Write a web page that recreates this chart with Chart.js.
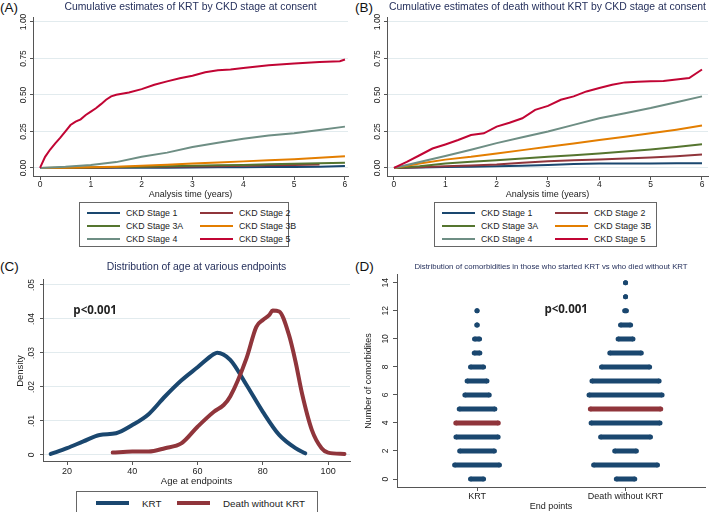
<!DOCTYPE html>
<html>
<head>
<meta charset="utf-8">
<script src="https://cdn.jsdelivr.net/npm/chart.js@4.4.0/dist/chart.umd.min.js"></script>
<style>
  body { margin: 0; width: 709px; height: 512px; overflow: hidden; background: #fff; position: relative;
         font-family: "Liberation Sans", Arial, Helvetica, sans-serif; color: #222; }
  .panel { position: absolute; }
  .tag { position: absolute; font-size: 13.5px; line-height: 14px; color: #111; }
  .legend { position: absolute; border: 1px solid #666; box-sizing: border-box; background: #fff; }
  .legend .item { position: absolute; display: flex; align-items: center; height: 12px; white-space: nowrap; }
  .legend .swatch { display: inline-block; width: 33px; margin-right: 6px; }
</style>
</head>
<body>
<div class="tag" style="left:0;top:1px">(A)</div>
<div class="tag" style="left:355px;top:1px">(B)</div>
<div class="tag" style="left:0;top:260px">(C)</div>
<div class="tag" style="left:355px;top:260px">(D)</div>

<canvas id="chartA" class="panel" width="354" height="200" style="left:0;top:0"></canvas>
<canvas id="chartB" class="panel" width="355" height="200" style="left:354px;top:0"></canvas>
<canvas id="chartC" class="panel" width="354" height="232" style="left:0;top:258px"></canvas>
<canvas id="chartD" class="panel" width="355" height="254" style="left:354px;top:258px"></canvas>

<div id="legendA" class="legend" style="left:79px;top:202px;width:210px;height:45px"></div>
<div id="legendB" class="legend" style="left:434px;top:202px;width:223px;height:45px"></div>
<div id="legendC" class="legend" style="left:76px;top:491px;width:242px;height:30px"></div>

<script>
// ---- data ----
const stageLabels = ['CKD Stage 1', 'CKD Stage 2', 'CKD Stage 3A', 'CKD Stage 3B', 'CKD Stage 4', 'CKD Stage 5'];
const stageColors = ['#1a476f', '#90353b', '#55752f', '#e37e00', '#6e8e84', '#c10534'];
const yearTicks = [0, 1, 2, 3, 4, 5, 6];
const cumTicks = [0, 0.25, 0.5, 0.75, 1];

const timeCoarse = [0, 0.5, 1, 1.5, 2, 2.5, 3, 3.5, 4, 4.5, 5, 5.5, 6];
const timeFineA = [0, 0.1, 0.2, 0.3, 0.4, 0.5, 0.6, 0.7, 0.8, 0.9, 1, 1.1, 1.2, 1.3, 1.4, 1.5, 1.75, 2, 2.25, 2.5, 2.75, 3, 3.25, 3.5, 3.75, 4, 4.5, 5, 5.5, 5.9, 6];
const timeFineB = [0, 0.25, 0.5, 0.75, 1, 1.25, 1.5, 1.75, 2, 2.25, 2.5, 2.75, 3, 3.25, 3.5, 3.75, 4, 4.25, 4.5, 4.75, 5, 5.25, 5.5, 5.75, 6];

// (A) cumulative estimates of KRT
const krtStage1 = [0, 0, 0, 0.001, 0.002, 0.002, 0.003, 0.004, 0.005, 0.006, 0.007, 0.009, 0.014];
const krtStage2 = [0, 0, 0.002, 0.004, 0.006, 0.008, 0.01, 0.012, 0.015, 0.018, 0.02, 0.024, null];
const krtStage3A = [0, 0.001, 0.003, 0.006, 0.009, 0.012, 0.015, 0.018, 0.021, 0.025, 0.028, 0.032, 0.036];
const krtStage3B = [0, 0.002, 0.005, 0.009, 0.015, 0.022, 0.03, 0.037, 0.045, 0.052, 0.06, 0.07, 0.08];
const krtStage4 = [0, 0.008, 0.02, 0.04, 0.076, 0.105, 0.143, 0.172, 0.2, 0.222, 0.237, 0.26, 0.283];
const krtStage5 = [0, 0.076, 0.126, 0.168, 0.207, 0.25, 0.294, 0.317, 0.333, 0.363, 0.386, 0.409, 0.437, 0.467, 0.49, 0.501,
                   0.517, 0.54, 0.57, 0.593, 0.614, 0.632, 0.655, 0.669, 0.674, 0.685, 0.703, 0.715, 0.726, 0.731, 0.743];

// (B) cumulative estimates of death without KRT
const deathStage1 = [0, 0.003, 0.007, 0.009, 0.011, 0.015, 0.02, 0.027, 0.03, 0.031, 0.031, 0.032, 0.032];
const deathStage2 = [0, 0.005, 0.011, 0.017, 0.023, 0.035, 0.046, 0.052, 0.057, 0.064, 0.071, 0.08, 0.092];
const deathStage3A = [0, 0.012, 0.03, 0.042, 0.053, 0.065, 0.076, 0.087, 0.099, 0.112, 0.126, 0.143, 0.163];
const deathStage3B = [0, 0.03, 0.057, 0.076, 0.099, 0.122, 0.145, 0.168, 0.191, 0.214, 0.237, 0.262, 0.29];
const deathStage4 = [0, 0.041, 0.082, 0.125, 0.17, 0.21, 0.25, 0.295, 0.34, 0.375, 0.41, 0.45, 0.49];
const deathStage5 = [0, 0.041, 0.087, 0.133, 0.161, 0.191, 0.225, 0.237, 0.283, 0.31, 0.34, 0.398, 0.425,
                     0.467, 0.49, 0.524, 0.547, 0.57, 0.586, 0.59, 0.593, 0.595, 0.605, 0.616, 0.674];

// (C) age density at endpoints
const endpointLabels = ['KRT', 'Death without KRT'];
const endpointColors = ['#1a476f', '#90353b'];
const ageTicks = [20, 40, 60, 80, 100];
const densityTicks = [0, 0.01, 0.02, 0.03, 0.04, 0.05];
const densityTickLabels = ['0', '.01', '.02', '.03', '.04', '.05'];
const ageKrt = [15, 20, 25, 30, 35, 40, 45, 50, 55, 60, 65, 66, 70, 75, 80, 85, 90, 93];
const densityKrt = [0.0003, 0.002, 0.004, 0.0059, 0.0064, 0.0088, 0.012, 0.0172, 0.0219, 0.0258, 0.0297, 0.0301,
                    0.028, 0.0206, 0.0127, 0.0059, 0.002, 0.0005];
const ageDeath = [34, 40, 45, 50, 55, 60, 65, 68, 70, 75, 78, 80, 82, 83, 85, 88, 90, 92, 95, 98, 100, 105];
const densityDeath = [0.0007, 0.001, 0.001, 0.002, 0.0034, 0.0083, 0.0127, 0.0147, 0.0172, 0.0285, 0.0377, 0.0397,
                      0.0412, 0.0425, 0.0422, 0.0353, 0.0275, 0.0181, 0.0074, 0.002, 0.0007, 0.0003];

// (D) comorbidity dot plot: half-width of each dot row (in category units), null = no patients
const comorbidityTicks = [0, 2, 4, 6, 8, 10, 12, 14];
const comorbidityLevels = [0, 1, 2, 3, 4, 5, 6, 7, 8, 9, 10, 11, 12, 13, 14];
const krtRowSpread = [0.044, 0.151, 0.117, 0.142, 0.143, 0.12, 0.082, 0.067, 0.044, 0.019, 0.017, 0.002, 0, null, null];
const deathRowSpread = [0.062, 0.215, 0.073, 0.168, 0.232, 0.237, 0.246, 0.226, 0.162, 0.106, 0.05, 0.034, 0.006, 0, 0];
const medianComorbidities = [4, 5];
const pValueText = 'p<0.001';

// ---- style ----
const FONT = '"Liberation Sans", Arial, Helvetica, sans-serif';
const axisColor = '#555';
const gridColor = '#e2ebee';
const titleColor = '#25305c';

Chart.defaults.font.family = FONT;
Chart.defaults.color = '#222';
Chart.defaults.animation = false;
Chart.defaults.events = [];
Chart.defaults.plugins.legend.display = false;
Chart.defaults.plugins.tooltip.enabled = false;

const fixTicks = values => scale => { scale.ticks = values.map(v => ({ value: v })); };

const pLabel = {
    id: 'pLabel',
    afterDatasetsDraw(chart, args, opts) {
        if (!opts.text) return;
        const { ctx, scales } = chart;
        ctx.save();
        ctx.font = 'bold 11.5px "Open Sans", ' + FONT;
        ctx.fillStyle = '#222';
        ctx.textAlign = 'center';
        ctx.textBaseline = 'middle';
        ctx.fillText(opts.text, scales.x.getPixelForValue(opts.x), scales.y.getPixelForValue(opts.y));
        ctx.restore();
    }
};

function curve(label, color, times, values, order, width) {
    return {
        label,
        data: times.map((t, i) => ({ x: t, y: values[i] })),
        borderColor: color,
        backgroundColor: color,
        borderWidth: width,
        pointRadius: 0,
        order,
        spanGaps: false
    };
}

function cumulativeChart(id, title, titleSize, series, times, xMin, xMax, padRight) {
    new Chart(document.getElementById(id), {
        type: 'line',
        data: {
            datasets: series.map((vals, i) => curve(stageLabels[i], stageColors[i], times[i], vals, series.length - i, 2))
        },
        options: {
            responsive: false,
            layout: { padding: { left: 0, right: padRight, top: 0, bottom: 0 } },
            plugins: {
                title: {
                    display: true, text: title, color: titleColor, fullSize: false,
                    font: { size: titleSize, weight: 'normal' }, padding: { top: 1, bottom: 4.5 }
                }
            },
            scales: {
                x: {
                    type: 'linear', min: xMin, max: xMax,
                    afterBuildTicks: fixTicks(yearTicks),
                    afterFit: s => { s.height = 23; },
                    border: { color: axisColor },
                    grid: { drawOnChartArea: false, tickColor: axisColor, tickLength: 3 },
                    ticks: { font: { size: 8.5 }, padding: 0, maxRotation: 0, autoSkip: false },
                    title: { display: true, text: 'Analysis time (years)', font: { size: 9 }, padding: 0 }
                },
                y: {
                    type: 'linear', min: -0.062, max: 1.027,
                    afterBuildTicks: fixTicks(cumTicks),
                    afterFit: s => { s.width = 33; },
                    border: { color: axisColor },
                    grid: { color: gridColor, tickColor: axisColor, tickLength: 3 },
                    ticks: {
                        font: { size: 8.5 }, minRotation: 90, maxRotation: 90, crossAlign: 'center',
                        padding: -2.3, autoSkip: false, callback: v => v.toFixed(2)
                    }
                }
            }
        }
    });
}

cumulativeChart('chartA', 'Cumulative estimates of KRT by CKD stage at consent', 10.4,
    [krtStage1, krtStage2, krtStage3A, krtStage3B, krtStage4, krtStage5],
    [timeCoarse, timeCoarse, timeCoarse, timeCoarse, timeCoarse, timeFineA],
    -0.138, 6.06, 6);

cumulativeChart('chartB', 'Cumulative estimates of death without KRT by CKD stage at consent', 10.4,
    [deathStage1, deathStage2, deathStage3A, deathStage3B, deathStage4, deathStage5],
    [timeCoarse, timeCoarse, timeCoarse, timeCoarse, timeCoarse, timeFineB],
    -0.136, 6.117, 1);

// (C) density
new Chart(document.getElementById('chartC'), {
    type: 'line',
    data: {
        datasets: [
            curve(endpointLabels[0], endpointColors[0], ageKrt, densityKrt, 2, 4),
            curve(endpointLabels[1], endpointColors[1], ageDeath, densityDeath, 1, 4)
        ].map(d => Object.assign(d, { cubicInterpolationMode: 'monotone', borderCapStyle: 'round' }))
    },
    options: {
        responsive: false,
        layout: { padding: { left: 0, right: 4, top: 0, bottom: 0 } },
        plugins: {
            title: {
                display: true, text: 'Distribution of age at various endpoints', color: titleColor, fullSize: false,
                font: { size: 10.4, weight: 'normal' }, padding: { top: 3, bottom: 6.5 }
            },
            pLabel: { text: pValueText, x: 28.6, y: 0.0424 }
        },
        scales: {
            x: {
                type: 'linear', min: 12.64, max: 106.7,
                afterBuildTicks: fixTicks(ageTicks),
                afterFit: s => { s.height = 28; },
                border: { color: axisColor },
                grid: { drawOnChartArea: false, tickColor: axisColor, tickLength: 3 },
                ticks: { font: { size: 9 }, padding: 1.5, maxRotation: 0, autoSkip: false },
                title: { display: true, text: 'Age at endpoints', font: { size: 9.5 }, padding: { top: 0, bottom: 3 } }
            },
            y: {
                type: 'linear', min: -0.00206, max: 0.05147,
                afterBuildTicks: fixTicks(densityTicks),
                afterFit: s => { s.width = 43; },
                border: { color: axisColor },
                grid: { color: gridColor, tickColor: axisColor, tickLength: 3 },
                ticks: {
                    font: { size: 8.5 }, minRotation: 90, maxRotation: 90, crossAlign: 'center',
                    padding: 2, autoSkip: false, callback: (v, i) => densityTickLabels[i]
                },
                title: { display: true, text: 'Density', font: { size: 9.5 }, padding: { top: 15, bottom: 0 } }
            }
        }
    },
    plugins: [pLabel]
});

// (D) dot plot
function dotRows(center, spreads, median) {
    const rows = [];
    spreads.forEach((hw, i) => {
        if (hw === null) return;
        const lvl = comorbidityLevels[i];
        const color = lvl === median ? '#90353b' : '#1a476f';
        rows.push({
            data: [{ x: center - hw, y: lvl }, { x: center + hw, y: lvl }],
            showLine: true,
            borderColor: color,
            borderWidth: 5,
            borderCapStyle: 'butt',
            pointRadius: 2.5,
            pointBorderWidth: 0,
            pointBackgroundColor: color
        });
    });
    return rows;
}

new Chart(document.getElementById('chartD'), {
    type: 'scatter',
    data: {
        datasets: [
            ...dotRows(1, krtRowSpread, medianComorbidities[0]),
            ...dotRows(2, deathRowSpread, medianComorbidities[1])
        ]
    },
    options: {
        responsive: false,
        layout: { padding: { left: 0, right: 3, top: 0, bottom: 0 } },
        plugins: {
            title: {
                display: true, text: 'Distribution of comorbidities in those who started KRT vs who died without KRT',
                color: titleColor, fullSize: false, font: { size: 7.8, weight: 'normal' }, padding: { top: 4, bottom: 3.5 }
            },
            pLabel: { text: pValueText, x: 1.6, y: 12.07 }
        },
        scales: {
            x: {
                type: 'linear', min: 0.461, max: 2.535,
                afterBuildTicks: fixTicks([1, 2]),
                afterFit: s => { s.height = 25; },
                border: { color: axisColor },
                grid: { drawOnChartArea: false, tickColor: axisColor, tickLength: 4 },
                ticks: { font: { size: 9 }, padding: 0, maxRotation: 0, autoSkip: false, callback: (v, i) => endpointLabels[i] },
                title: { display: true, text: 'End points', font: { size: 9 }, padding: { top: 0, bottom: 0.5 } }
            },
            y: {
                type: 'linear', min: -0.57, max: 14.57,
                afterBuildTicks: fixTicks(comorbidityTicks),
                afterFit: s => { s.width = 43; },
                border: { color: axisColor },
                grid: { drawOnChartArea: false, tickColor: axisColor, tickLength: 4 },
                ticks: {
                    font: { size: 8.5 }, minRotation: 90, maxRotation: 90, crossAlign: 'center',
                    padding: 2.3, autoSkip: false
                },
                title: { display: true, text: 'Number of comorbidites', font: { size: 9 }, padding: { top: 9.6, bottom: 0 } }
            }
        }
    },
    plugins: [pLabel]
});

// ---- HTML legends ----
function stageLegend(id) {
    const box = document.getElementById(id);
    stageLabels.forEach((label, i) => {
        const item = document.createElement('div');
        item.className = 'item';
        item.style.left = (7 + (i % 2) * 113) + 'px';
        item.style.top = (4 + Math.floor(i / 2) * 13) + 'px';
        item.style.fontSize = '8.8px';
        item.innerHTML = '<span class="swatch" style="height:2px;background:' + stageColors[i] + '"></span>' + label;
        box.appendChild(item);
    });
}
stageLegend('legendA');
stageLegend('legendB');

(function endpointLegend() {
    const box = document.getElementById('legendC');
    const lefts = [19, 100];
    endpointLabels.forEach((label, i) => {
        const item = document.createElement('div');
        item.className = 'item';
        item.style.left = lefts[i] + 'px';
        item.style.top = '5px';
        item.style.fontSize = '9.8px';
        item.innerHTML = '<span class="swatch" style="height:4px;margin-right:13px;background:' + endpointColors[i] + '"></span>' + label;
        box.appendChild(item);
    });
})();
</script>
</body>
</html>
